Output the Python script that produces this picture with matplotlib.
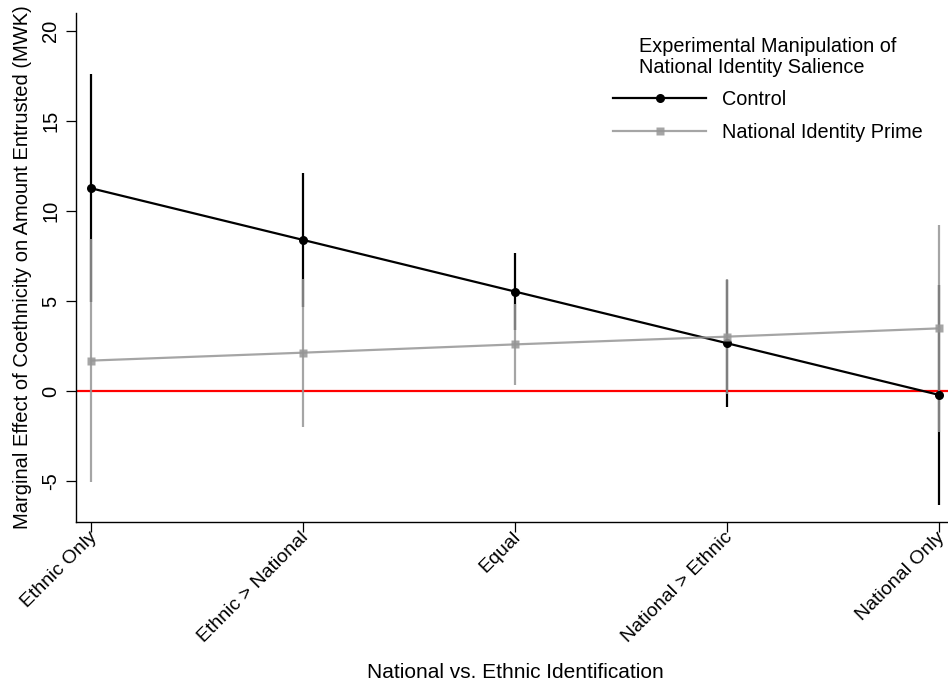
import matplotlib
matplotlib.use("Agg")
import matplotlib.pyplot as plt
import matplotlib.transforms as mtransforms
import numpy as np

plt.rcParams['font.family'] = ['Liberation Sans', 'DejaVu Sans']

categories = ["Ethnic Only", "Ethnic > National", "Equal", "National > Ethnic", "National Only"]
control_mean = [11.26, 8.39, 5.52, 2.65, -0.22]
control_lo = [4.92, 4.69, 3.39, -0.87, -6.33]
control_hi = [17.60, 12.09, 7.65, 6.17, 5.90]
prime_mean = [1.69, 2.13, 2.59, 3.02, 3.48]
prime_lo = [-5.06, -1.98, 0.33, -0.18, -2.26]
prime_hi = [8.44, 6.23, 4.85, 6.22, 9.20]
yticks = [-5, 0, 5, 10, 15, 20]

W, H = 948, 687
fig = plt.figure(figsize=(W / 100, H / 100), dpi=100)
L, R, T, B = 75.7, 948, 13.3, 521.7
ax = fig.add_axes([L / W, 1 - B / H, (R - L) / W, (B - T) / H])

x = np.arange(len(categories))
gray = (0.588, 0.588, 0.588)

ax.axhline(0, color='#ff0000', lw=1.6, zorder=1)
ax.vlines(x, control_lo, control_hi, color='black', lw=1.6, zorder=2, clip_on=False)
ax.vlines(x, prime_lo, prime_hi, color=gray, alpha=0.85, lw=1.6, zorder=3, clip_on=False)
ax.plot(x, control_mean, color='black', lw=1.6, marker='o', ms=6.5, mec='none',
        label='Control', zorder=4, clip_on=False)
ax.plot(x, prime_mean, color=gray, alpha=0.85, lw=1.6, marker='s', ms=6.3, mec='none',
        label='National Identity Prime', zorder=5, clip_on=False)

ax.set_xlim((L - 91.3) / 212, (R - 91.3) / 212)
ax.set_ylim(-(B - 391) / 18, (391 - T) / 18)

ax.set_xticks(x)
ax.set_xticklabels(categories, rotation=45, ha='right', va='top', rotation_mode='anchor',
                   fontsize=14)
ax.set_yticks(yticks)
ax.set_yticklabels([str(v) for v in yticks], rotation=90, va='center', fontsize=14.5)
ax.tick_params(axis='both', length=7, width=0.9, direction='out', pad=4)
ax.tick_params(axis='x', pad=0)
offset = mtransforms.ScaledTranslation(-3 / 100, 3 / 100, fig.dpi_scale_trans)
for lab in ax.get_xticklabels():
    lab.set_transform(lab.get_transform() + offset)

for s in ['top', 'right']:
    ax.spines[s].set_visible(False)
for s in ['left', 'bottom']:
    ax.spines[s].set_linewidth(1.0)

ax.set_ylabel("Marginal Effect of Coethnicity on Amount Entrusted (MWK)", fontsize=14.5)
ax.yaxis.set_label_coords(-0.050, 0.5)
ax.set_xlabel("National vs. Ethnic Identification", fontsize=15)
ax.xaxis.set_label_coords((515 - L) / (R - L), (B - 663) / (B - T))

leg = ax.legend(loc='upper left', bbox_to_anchor=(613 / W, 1 - 37 / H),
                bbox_transform=fig.transFigure, frameon=False, fontsize=14.3,
                title="Experimental Manipulation of\nNational Identity Salience",
                title_fontsize=14.3, handlelength=4.7, handletextpad=0.8,
                labelspacing=0.70, borderpad=0, borderaxespad=0)
leg.get_title().set_multialignment('left')
leg.get_title().set_linespacing(1.15)
leg._legend_box.sep = 9

fig.savefig("out.png", dpi=100)
